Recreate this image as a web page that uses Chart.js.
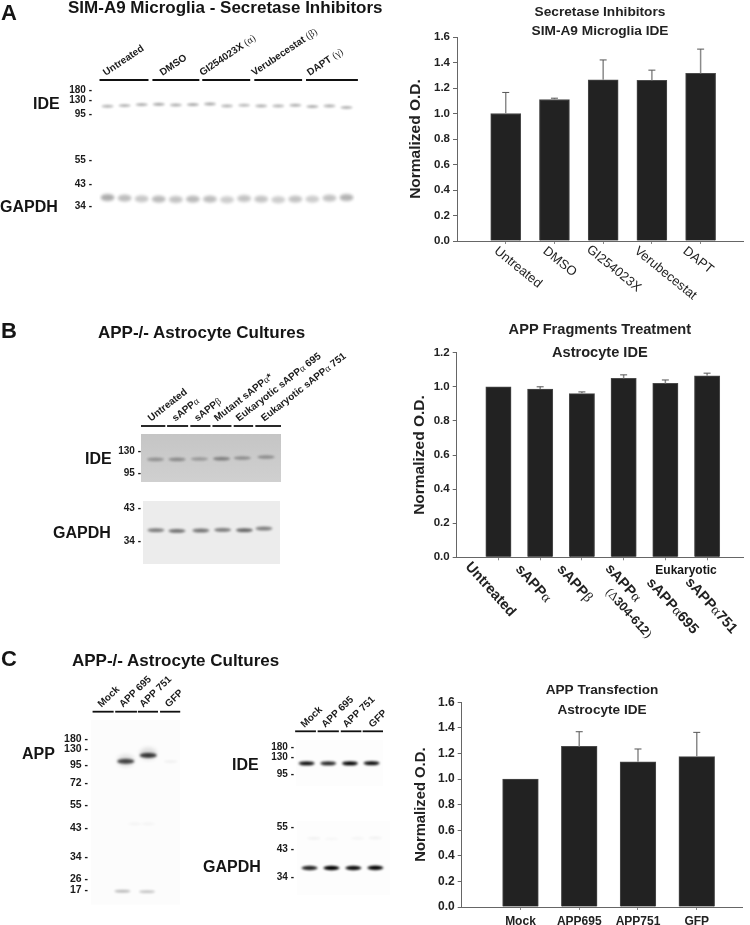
<!DOCTYPE html>
<html>
<head>
<meta charset="utf-8">
<title>Secretase inhibitors and APP fragments - IDE levels</title>
<script src="https://cdn.jsdelivr.net/npm/chart.js@4/dist/chart.umd.min.js"></script>
<style>
    html, body { margin: 0; padding: 0; background: #fff; }
    #page { position: relative; width: 750px; height: 925px; overflow: hidden; filter: blur(0.3px); }
    #page canvas { position: absolute; }
    #notes { position: absolute; left: 0; top: 0; }
    #notes text { font-family: "Liberation Sans", Arial, sans-serif; font-weight: bold; fill: #151515; }
</style>
</head>
<body>
<div id="page">
    <svg id="notes" width="750" height="925">
        <text x="1" y="20" font-size="22">A</text>
        <text x="1" y="338" font-size="22">B</text>
        <text x="1" y="666" font-size="22">C</text>
        <text x="68" y="13" font-size="17">SIM-A9 Microglia - Secretase Inhibitors</text>
        <text x="98" y="338" font-size="17">APP-/- Astrocyte Cultures</text>
        <text x="72" y="666" font-size="17">APP-/- Astrocyte Cultures</text>
        <text x="33" y="109" font-size="16">IDE</text>
        <text x="0" y="212" font-size="16">GAPDH</text>
        <text x="85" y="464" font-size="16">IDE</text>
        <text x="53" y="538" font-size="16">GAPDH</text>
        <text x="22" y="759" font-size="16">APP</text>
        <text x="232" y="770" font-size="16">IDE</text>
        <text x="203" y="872" font-size="16">GAPDH</text>
        <text x="686" y="574" font-size="12" text-anchor="middle">Eukaryotic</text>
    </svg>
</div>
<script>
// ---- bar chart data ----
const inhibitorLabels = ['Untreated', 'DMSO', 'GI254023X', 'Verubecestat', 'DAPT'];
const inhibitorValues = [1.0, 1.11, 1.265, 1.26, 1.315];
const inhibitorErrorTops = [1.165, 1.12, 1.42, 1.34, 1.505];

const fragmentLabels = ['Untreated', 'sAPPα', 'sAPPβ', 'sAPPα', 'sAPPα695', 'sAPPα751'];
const fragmentValues = [1.0, 0.987, 0.96, 1.05, 1.02, 1.065];
const fragmentErrorTops = [1.0, 1.0, 0.97, 1.07, 1.04, 1.08];

const transfectionLabels = ['Mock', 'APP695', 'APP751', 'GFP'];
const transfectionValues = [1.0, 1.255, 1.135, 1.175];
const transfectionErrorTops = [1.0, 1.37, 1.235, 1.365];

// ---- blot data (lane number, migration down the gel, band density) ----
const microgliaHeaders = ['Untreated', 'DMSO', 'GI254023X (α)', 'Verubecestat (β)', 'DAPT (γ)'];
const microgliaMarkers = [180, 130, 95, 55, 43, 34];
const microgliaMarkerRows = [5.5, 16, 30.5, 78, 103, 126];
const microgliaLanes = [1, 2, 3, 4, 5, 6, 7, 8, 9, 10, 11, 12, 13, 14, 15];
const microgliaIdeRows = [22, 21.3, 20.3, 20, 20.7, 20.3, 19.7, 21.7, 21, 21.7, 21.7, 21, 22.3, 21.7, 23.3];
const microgliaIdeDensity = [0.3, 0.3, 0.32, 0.35, 0.32, 0.34, 0.35, 0.3, 0.28, 0.32, 0.3, 0.32, 0.32, 0.32, 0.3];
const microgliaGapdhRows = [116.7, 117.3, 118, 118.3, 118.7, 118.3, 118.3, 119, 117.7, 118.3, 119, 118.3, 118.3, 117.3, 116.7];
const microgliaGapdhDensity = [0.33, 0.26, 0.22, 0.27, 0.24, 0.27, 0.26, 0.2, 0.24, 0.23, 0.2, 0.24, 0.2, 0.24, 0.3];

const astrocyteHeaders = ['Untreated', 'sAPPα', 'sAPPβ', 'Mutant sAPPα*', 'Eukaryotic sAPPα 695', 'Eukaryotic sAPPα 751'];
const astrocyteIdeMarkers = [130, 95];
const astrocyteIdeMarkerRows = [17.7, 40.3];
const astrocyteIdeLanes = [1, 1.98, 2.99, 3.99, 4.93, 6];
const astrocyteIdeRows = [25.7, 25.7, 25.3, 25, 24.3, 23.3];
const astrocyteIdeDensity = [0.3, 0.34, 0.25, 0.4, 0.3, 0.3];
const astrocyteGapdhMarkers = [43, 34];
const astrocyteGapdhMarkerRows = [7.3, 40];
const astrocyteGapdhLanes = [1, 1.97, 3.07, 4.07, 5.07, 5.97];
const astrocyteGapdhRows = [29.3, 30, 29.6, 29, 29.3, 27.6];
const astrocyteGapdhDensity = [0.46, 0.5, 0.5, 0.46, 0.55, 0.46];

const transfectionHeaders = ['Mock', 'APP 695', 'APP 751', 'GFP'];
const appMarkers = [180, 130, 95, 72, 55, 43, 34, 26, 17];
const appMarkerRows = [19, 29.3, 46, 63.3, 86, 109, 138.3, 161, 172.3];
const appLanes = [2, 3];
const appRows = [41.7, 35.7];
const appDensity = [0.7, 0.75];
const appHaloRows = [41, 34];
const appHaloDensity = [0.12, 0.14];
const appLowLanes = [1.85, 2.95];
const appLowRows = [173, 173.5];
const appLowDensity = [0.3, 0.25];
const appFaintLanes = [2.4, 3, 4];
const appFaintRows = [105, 105, 42];
const appFaintDensity = [0.04, 0.04, 0.05];

const transIdeMarkers = [180, 130, 95];
const transIdeMarkerRows = [7.7, 18, 34.7];
const transIdeLanes = [1, 2, 3, 4];
const transIdeRows = [23.7, 23.7, 23.7, 23.5];
const transIdeDensity = [0.95, 0.85, 1, 0.95];
const transGapdhMarkers = [55, 43, 34];
const transGapdhMarkerRows = [6, 29.3, 58.3];
const transGapdhLanes = [1, 2, 3, 4];
const transGapdhRows = [48.7, 48.7, 48.7, 48.5];
const transGapdhDensity = [0.85, 1, 0.95, 1];
const transFaintLanes = [1.2, 2, 3.2, 4];
const transFaintRows = [18, 18.5, 18, 17.5];
const transFaintDensity = [0.05, 0.03, 0.04, 0.05];

const FONT = '"Liberation Sans", Arial, sans-serif';
const page = document.getElementById('page');

Chart.defaults.font.family = FONT;
Chart.defaults.color = '#222';
Chart.defaults.animation = false;

// Draw a string on a rotated baseline, greek letters and brackets in the thin serif face
function drawMixedText(ctx, text, size, bold) {
    let x = 0;
    text.split(/([αβγΔ()])/).filter(Boolean).forEach(part => {
        const thin = /[αβγΔ()]/.test(part);
        ctx.font = thin
            ? `${size}px "Liberation Serif", serif`
            : `${bold ? 'bold ' : ''}${size}px ${FONT}`;
        ctx.fillText(part, x, 0);
        x += ctx.measureText(part).width;
    });
}

function newCanvas(left, top, width, height) {
    const canvas = document.createElement('canvas');
    canvas.width = width;
    canvas.height = height;
    canvas.style.left = left + 'px';
    canvas.style.top = top + 'px';
    page.appendChild(canvas);
    return canvas;
}

// Stem and cap above every bar
const errorBarPlugin = {
    id: 'errorBars',
    afterDatasetsDraw(chart) {
        const { ctx, scales: { x, y } } = chart;
        const dataset = chart.data.datasets[0];
        dataset.errorTops.forEach((top, i) => {
            const point = dataset.data[i];
            if (top <= point.y) return;
            const px = x.getPixelForValue(point.x);
            const yTop = y.getPixelForValue(top);
            ctx.save();
            ctx.strokeStyle = '#8a8a8a';
            ctx.lineWidth = 1.5;
            ctx.beginPath();
            ctx.moveTo(px, y.getPixelForValue(point.y));
            ctx.lineTo(px, yTop);
            ctx.stroke();
            ctx.strokeStyle = '#555';
            ctx.lineWidth = 1;
            ctx.beginPath();
            ctx.moveTo(px - 3.5, yTop);
            ctx.lineTo(px + 3.5, yTop);
            ctx.stroke();
            ctx.restore();
        });
    }
};

// Category labels that slope down to the right, which Chart.js ticks cannot do
const slantedLabelPlugin = {
    id: 'slantedLabels',
    afterDraw(chart, args, opts) {
        if (!opts.labels) return;
        const { ctx, chartArea, scales: { x } } = chart;
        ctx.save();
        ctx.fillStyle = '#222';
        ctx.textBaseline = 'middle';
        opts.labels.forEach((label, i) => {
            ctx.save();
            ctx.translate(x.getPixelForValue(i + 1) + opts.dx[i], chartArea.bottom + opts.dy[i]);
            ctx.rotate(opts.angle * Math.PI / 180);
            drawMixedText(ctx, label, opts.size, opts.bold);
            ctx.restore();
        });
        (opts.extra || []).forEach(item => {
            ctx.save();
            ctx.translate(x.getPixelForValue(item.tick) + item.dx, chartArea.bottom + item.dy);
            ctx.rotate(opts.angle * Math.PI / 180);
            drawMixedText(ctx, item.text, item.size, true);
            ctx.restore();
        });
        ctx.restore();
    }
};

function barChart(cfg) {
    const width = 750 - cfg.left;
    const canvas = newCanvas(cfg.left, cfg.top, width, cfg.height);
    const xHeight = cfg.top + cfg.height - cfg.plotBottom;
    return new Chart(canvas, {
        type: 'bar',
        data: {
            datasets: [{
                data: cfg.values.map((v, i) => ({ x: i + 1, y: v })),
                errorTops: cfg.errorTops,
                backgroundColor: '#222',
                borderColor: '#4a4a4a',
                borderWidth: 1,
                barThickness: cfg.barWidth
            }]
        },
        options: {
            responsive: false,
            layout: { padding: { right: 750 - cfg.plotRight } },
            plugins: {
                legend: { display: false },
                tooltip: { enabled: false },
                title: {
                    display: true,
                    fullSize: false,
                    text: cfg.title,
                    color: '#222',
                    font: { size: cfg.titleSize, weight: 'bold', lineHeight: cfg.titleLine + 'px' },
                    padding: cfg.titlePadding
                },
                slantedLabels: cfg.slanted || {}
            },
            scales: {
                x: {
                    type: 'linear',
                    offset: false,
                    min: 0,
                    max: cfg.xMax,
                    afterFit: s => { s.height = xHeight; },
                    afterBuildTicks: s => { s.ticks = cfg.labels.map((_, i) => ({ value: i + 1 })); },
                    border: { color: '#666' },
                    grid: { offset: false, drawOnChartArea: false, tickLength: 3, tickColor: '#888' },
                    ticks: {
                        display: !cfg.slanted,
                        autoSkip: false,
                        maxRotation: 0,
                        padding: 4,
                        color: '#222',
                        font: { size: 12, weight: 'bold' },
                        callback: (v, i) => cfg.labels[i]
                    }
                },
                y: {
                    min: 0,
                    max: cfg.yMax,
                    afterFit: s => { s.width = cfg.plotLeft - cfg.left; },
                    border: { color: '#666' },
                    grid: { drawOnChartArea: false, tickLength: 4, tickColor: '#666' },
                    title: {
                        display: true,
                        text: 'Normalized O.D.',
                        color: '#222',
                        padding: 0,
                        font: { size: cfg.yTitleSize, weight: 'bold' }
                    },
                    ticks: {
                        stepSize: 0.2,
                        padding: 3,
                        color: '#222',
                        font: { size: cfg.tickSize, weight: 'bold' },
                        callback: v => v.toFixed(1)
                    }
                }
            }
        },
        plugins: [errorBarPlugin, slantedLabelPlugin]
    });
}

// A soft blurred band, used as the point image of the gel charts
function bandSprite(width, height, density, blur) {
    const sprite = document.createElement('canvas');
    sprite.width = Math.ceil(width + blur * 6);
    sprite.height = Math.ceil(height + blur * 6);
    const c = sprite.getContext('2d');
    c.filter = `blur(${blur}px)`;
    c.fillStyle = `rgba(0,0,0,${density})`;
    c.beginPath();
    c.ellipse(sprite.width / 2, sprite.height / 2, width / 2, height / 2, 0, 0, Math.PI * 2);
    c.fill();
    return sprite;
}

const gelPlugin = {
    id: 'gelFrame',
    beforeDatasetsDraw(chart, args, opts) {
        const { ctx, chartArea: a } = chart;
        if (opts.background) {
            const fill = ctx.createLinearGradient(0, a.top, 0, a.bottom);
            fill.addColorStop(0, opts.background);
            fill.addColorStop(1, opts.backgroundEnd || opts.background);
            ctx.save();
            ctx.fillStyle = fill;
            ctx.fillRect(a.left, a.top, a.right - a.left, a.bottom - a.top);
            ctx.restore();
        }
    },
    afterDraw(chart, args, opts) {
        if (!opts.headers) return;
        const { ctx, chartArea: a, scales: { x } } = chart;
        const y = a.top - opts.bracketGap;
        ctx.save();
        ctx.strokeStyle = '#111';
        ctx.lineWidth = 1.8;
        opts.brackets.forEach(([from, to]) => {
            ctx.beginPath();
            ctx.moveTo(x.getPixelForValue(from), y);
            ctx.lineTo(x.getPixelForValue(to), y);
            ctx.stroke();
        });
        ctx.fillStyle = '#1a1a1a';
        ctx.textBaseline = 'alphabetic';
        opts.headers.forEach((text, i) => {
            ctx.save();
            ctx.translate(x.getPixelForValue(opts.headerAt[i]), y - opts.labelGap);
            ctx.rotate(-opts.angle * Math.PI / 180);
            drawMixedText(ctx, text, 10, true);
            ctx.restore();
        });
        ctx.restore();
    }
};

function gelChart(cfg) {
    const gelHeight = cfg.bottom - cfg.top;
    const head = cfg.head || 8;
    const extra = cfg.rightRoom || 4;
    const axisWidth = cfg.axisWidth;
    const canvas = newCanvas(cfg.left - axisWidth, cfg.top - head,
        axisWidth + cfg.right - cfg.left + extra, head + gelHeight + 8);
    return new Chart(canvas, {
        type: 'scatter',
        data: {
            datasets: cfg.bands.map(b => ({
                data: b.lanes.map((lane, i) => ({ x: lane, y: b.rows[i] })),
                pointRadius: 3,
                pointStyle: b.density.map(d => bandSprite(b.w, b.h, d, b.blur))
            }))
        },
        options: {
            responsive: false,
            layout: { padding: { top: head, bottom: 8, right: extra, left: 0 } },
            plugins: {
                legend: { display: false },
                tooltip: { enabled: false },
                gelFrame: cfg.frame
            },
            scales: {
                x: { type: 'linear', display: false, min: cfg.laneMin, max: cfg.laneMax },
                y: {
                    type: 'linear',
                    reverse: true,
                    min: 0,
                    max: gelHeight,
                    afterFit: s => { s.width = axisWidth; },
                    afterBuildTicks: s => { s.ticks = cfg.markerRows.map(v => ({ value: v })); },
                    border: { display: false },
                    grid: { display: false, drawTicks: false },
                    ticks: {
                        padding: cfg.tickGap,
                        color: '#1a1a1a',
                        font: { size: cfg.markerSize || 10, weight: 'bold' },
                        callback: (v, i) => cfg.markers[i] + ' -'
                    }
                }
            }
        },
        plugins: [gelPlugin]
    });
}

// ---- Panel A ----
gelChart({
    left: 98.5, right: 355, top: 85, bottom: 225, axisWidth: 40, head: 70, rightRoom: 30, tickGap: 7,
    laneMin: 0.5, laneMax: 15.5,
    markers: microgliaMarkers, markerRows: microgliaMarkerRows,
    bands: [
        { lanes: microgliaLanes, rows: microgliaIdeRows, density: microgliaIdeDensity, w: 12, h: 3, blur: 1 },
        { lanes: microgliaLanes, rows: microgliaGapdhRows, density: microgliaGapdhDensity, w: 14, h: 7, blur: 1.8 }
    ],
    frame: {
        headers: microgliaHeaders,
        headerAt: [0.9, 4.22, 6.55, 9.6, 12.85],
        brackets: [[0.53, 3.4], [3.63, 6.38], [6.55, 9.36], [9.6, 12.4], [12.63, 15.67]],
        bracketGap: 5, labelGap: 4, angle: 34
    }
});

barChart({
    left: 406, top: 0, height: 310, plotBottom: 241, plotLeft: 457, plotRight: 743,
    labels: inhibitorLabels, values: inhibitorValues, errorTops: inhibitorErrorTops,
    barWidth: 30, xMax: 5.87, yMax: 1.6, tickSize: 11.5, yTitleSize: 15.5,
    title: ['Secretase Inhibitors', 'SIM-A9 Microglia IDE'], titleSize: 13.7, titleLine: 19,
    titlePadding: { top: 2.5, bottom: -3.5 },
    slanted: {
        labels: inhibitorLabels, angle: 39, size: 13, bold: false,
        dx: [-10, -10, -15, -16, -16], dy: [8.5, 8.5, 7, 8.5, 8.5]
    }
});

// ---- Panel B ----
gelChart({
    left: 140.7, right: 280.7, top: 434, bottom: 482.7, axisWidth: 30, head: 90, rightRoom: 75, tickGap: 0,
    laneMin: 0.35, laneMax: 6.68,
    markers: astrocyteIdeMarkers, markerRows: astrocyteIdeMarkerRows,
    bands: [{ lanes: astrocyteIdeLanes, rows: astrocyteIdeRows, density: astrocyteIdeDensity, w: 17, h: 3.5, blur: 1 }],
    frame: {
        background: '#c5c5c5',
        backgroundEnd: '#d0d0d0',
        headers: astrocyteHeaders,
        headerAt: [0.8, 1.9, 2.9, 3.8, 4.78, 5.92],
        brackets: [[0.35, 1.45], [1.53, 2.48], [2.58, 3.49], [3.58, 4.44], [4.54, 5.42], [5.52, 6.68]],
        bracketGap: 8, labelGap: 4.3, angle: 38
    }
});

gelChart({
    left: 142.7, right: 280.7, top: 500.7, bottom: 564, axisWidth: 32, tickGap: 2,
    laneMin: 0.41, laneMax: 6.71,
    markers: astrocyteGapdhMarkers, markerRows: astrocyteGapdhMarkerRows,
    bands: [{ lanes: astrocyteGapdhLanes, rows: astrocyteGapdhRows, density: astrocyteGapdhDensity, w: 17, h: 4, blur: 1 }],
    frame: { background: '#ececec' }
});

barChart({
    left: 410, top: 315, height: 335, plotBottom: 557.3, plotLeft: 456.7, plotRight: 743,
    labels: fragmentLabels, values: fragmentValues, errorTops: fragmentErrorTops,
    barWidth: 25.3, xMax: 6.86, yMax: 1.2, tickSize: 11.5, yTitleSize: 15.5,
    title: ['APP Fragments Treatment', 'Astrocyte IDE'], titleSize: 14.6, titleLine: 22.7,
    titlePadding: { top: 4, bottom: -11.7 },
    slanted: {
        labels: fragmentLabels, angle: 48, size: 14.5, bold: true,
        dx: [-30.7, -22.3, -22.4, -16, -16.4, -19.3], dy: [7, 9.5, 9.5, 9, 23, 22.5],
        extra: [{ text: '(Δ304-612)', tick: 4, dx: -16, dy: 33, size: 12.5 }]
    }
});

// ---- Panel C ----
gelChart({
    left: 90.7, right: 180, top: 720, bottom: 906.7, axisWidth: 36, head: 50, rightRoom: 20, tickGap: 3,
    laneMin: 0.45, laneMax: 4.42, markerSize: 10.5,
    markers: appMarkers, markerRows: appMarkerRows,
    bands: [
        { lanes: appLanes, rows: appHaloRows, density: appHaloDensity, w: 17, h: 12, blur: 2 },
        { lanes: appLanes, rows: appRows, density: appDensity, w: 17, h: 5, blur: 1 },
        { lanes: appLowLanes, rows: appLowRows, density: appLowDensity, w: 16, h: 2.5, blur: 1 },
        { lanes: appFaintLanes, rows: appFaintRows, density: appFaintDensity, w: 14, h: 3, blur: 1.2 }
    ],
    frame: {
        background: '#fcfcfc',
        headers: transfectionHeaders,
        headerAt: [0.92, 1.88, 2.78, 3.92],
        brackets: [[0.52, 1.46], [1.53, 2.5], [2.54, 3.44], [3.53, 4.43]],
        bracketGap: 8.3, labelGap: 4, angle: 44
    }
});

gelChart({
    left: 296, right: 383.3, top: 740, bottom: 786.7, axisWidth: 34, head: 50, rightRoom: 20, tickGap: 2,
    laneMin: 0.51, laneMax: 4.53,
    markers: transIdeMarkers, markerRows: transIdeMarkerRows,
    bands: [{ lanes: transIdeLanes, rows: transIdeRows, density: transIdeDensity, w: 16, h: 4, blur: 0.9 }],
    frame: {
        background: '#fdfdfd',
        headers: transfectionHeaders,
        headerAt: [0.9, 1.86, 2.84, 4.05],
        brackets: [[0.47, 1.43], [1.51, 2.49], [2.58, 3.53], [3.59, 4.53]],
        bracketGap: 8.7, labelGap: 3.3, angle: 44
    }
});

gelChart({
    left: 296.7, right: 390.7, top: 820, bottom: 896.7, axisWidth: 34, tickGap: 3,
    laneMin: 0.43, laneMax: 4.67,
    markers: transGapdhMarkers, markerRows: transGapdhMarkerRows,
    bands: [
        { lanes: transGapdhLanes, rows: transGapdhRows, density: transGapdhDensity, w: 16, h: 4.5, blur: 0.9 },
        { lanes: transFaintLanes, rows: transFaintRows, density: transFaintDensity, w: 14, h: 3, blur: 1.2 }
    ],
    frame: { background: '#fdfdfd' }
});

barChart({
    left: 412, top: 670, height: 255, plotBottom: 907, plotLeft: 461.7, plotRight: 742.3,
    labels: transfectionLabels, values: transfectionValues, errorTops: transfectionErrorTops,
    barWidth: 35.7, xMax: 4.775, yMax: 1.6, tickSize: 12, yTitleSize: 14.8,
    title: ['APP Transfection', 'Astrocyte IDE'], titleSize: 13.6, titleLine: 20,
    titlePadding: { top: 10.5, bottom: -18.2 }
});
</script>
</body>
</html>
